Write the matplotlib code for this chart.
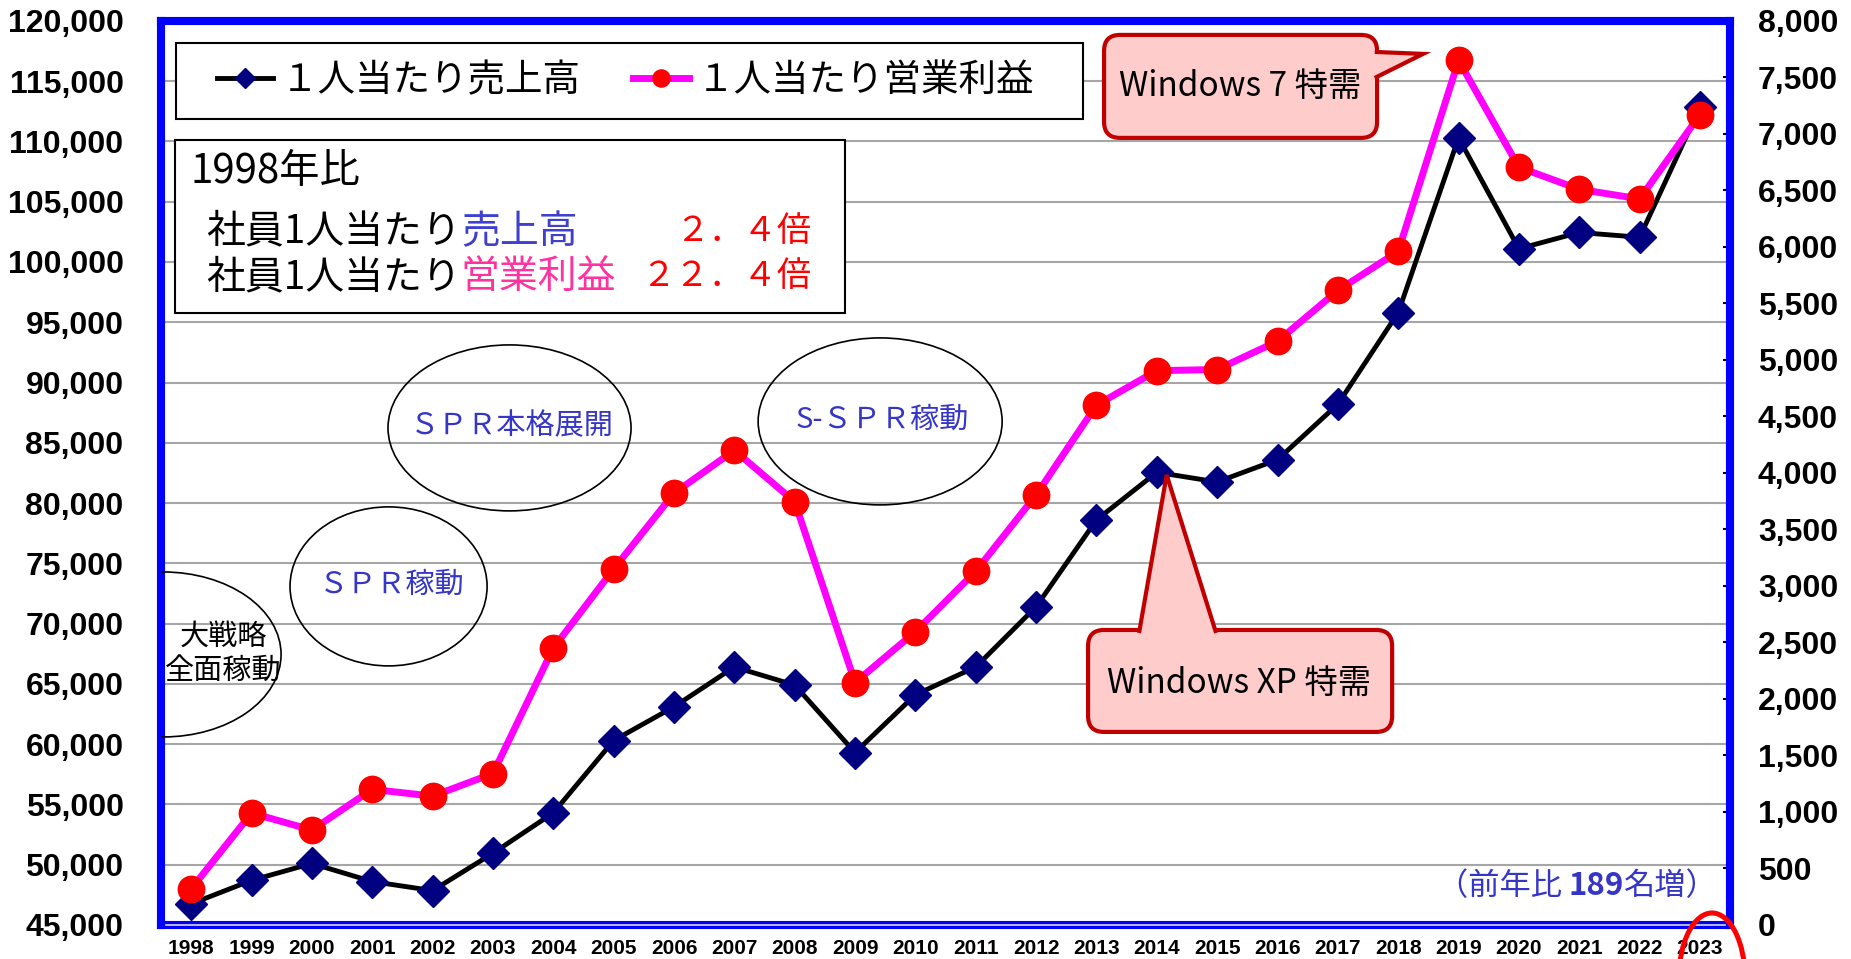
import numpy as np
import matplotlib.pyplot as plt
from matplotlib.patches import Ellipse, FancyBboxPatch, Polygon, Rectangle

JP = ['Noto Sans CJK JP', 'DejaVu Sans']
NUM = ['Liberation Sans', 'DejaVu Sans']

# data
years = [str(y) for y in range(1998, 2024)]
sales = [46750, 48700, 50100, 48600, 47850, 50950, 54300, 60300, 63100, 66400,
         64900, 59300, 64100, 66400, 71400, 78600, 82550, 81750, 83600, 88200,
         95800, 110300, 101100, 102450, 102050, 112850]
profit = [320, 990, 840, 1200, 1140, 1340, 2450, 3150, 3820, 4200,
          3745, 2145, 2595, 3130, 3805, 4600, 4905, 4915, 5165, 5615,
          5960, 7650, 6705, 6510, 6425, 7170]
left_ticks = list(range(45000, 120001, 5000))
right_ticks = list(range(0, 8001, 500))
legend_labels = ['１人当たり売上高', '１人当たり営業利益']

BLUE_TXT = '#3535C8'

fig = plt.figure(figsize=(18.51, 9.59), dpi=100)
ax = fig.add_axes([0.087, 0.0355, 0.8477, 0.9427])
x = np.arange(len(years))

l1, = ax.plot(x, sales, color='black', lw=3.5, marker='D', ms=16,
              mfc='#000080', mec='#000080', zorder=3)
ax.set_xlim(-0.5, len(years) - 0.5)
ax.set_ylim(left_ticks[0], left_ticks[-1])
ax.set_yticks(left_ticks)
ax.set_yticklabels([f'{v:,}' for v in left_ticks], fontsize=23,
                   fontweight='bold', family=NUM)
ax.set_xticks(x)
ax.set_xticklabels(years, fontsize=15, fontweight='bold', family=NUM)
ax.tick_params(axis='y', length=0, pad=27)
ax.tick_params(axis='x', length=0, pad=10)
ax.grid(axis='y', color='#A6A6A6', lw=1.5)
ax.set_axisbelow(True)

ax2 = ax.twinx()
l2, = ax2.plot(x, profit, color='#FF00FF', lw=5, marker='o', ms=19,
               mfc='#FF0000', mec='#FF0000', zorder=3)
ax2.set_ylim(right_ticks[0], right_ticks[-1])
ax2.set_yticks(right_ticks)
ax2.set_yticklabels([f'{v:,}' for v in right_ticks], fontsize=23,
                    fontweight='bold', family=NUM)
ax2.tick_params(axis='y', direction='in', length=5, width=1.5,
                color='black', pad=20)

for a in (ax, ax2):
    for s in a.spines.values():
        s.set_color('#0000FF')
        s.set_linewidth(5.8)
# light line running inside the bottom frame
ax2.axhline(0, xmin=0.003, xmax=0.997, color='#C8C8C8', lw=1.3,
            zorder=10, clip_on=False)

T = ax2.transAxes

# legend with its own frame
ax2.add_patch(Rectangle((0.0096, 0.8916), 0.578, 0.0841, transform=T,
                        fc='white', ec='black', lw=1.5, zorder=4.9))
ax2.legend([l1, l2], legend_labels, loc='center', bbox_to_anchor=(0.2960, 0.9336),
           bbox_transform=T, ncol=2, frameon=False, prop={'family': JP, 'size': 27},
           handlelength=1.5, handletextpad=0.2, columnspacing=1.4,
           markerscale=0.65, borderpad=0.2)

# 1998 comparison box
ax2.add_patch(Rectangle((0.0089, 0.677), 0.4271, 0.1914, transform=T,
                        fc='white', ec='black', lw=1.5, zorder=4.9))
ax2.text(0.0190, 0.833, '1998年比', transform=T, ha='left', va='center',
         fontsize=29, family=JP, zorder=6)
rows = [(0.7666, '売上高', '#4040D0', '２．４倍'),
        (0.7168, '営業利益', '#FF33A0', '２２．４倍')]
for yy, word, col, ratio in rows:
    t = ax2.text(0.0287, yy, '社員1人当たり', transform=T, ha='left', va='center',
                 fontsize=28, family=JP, zorder=6)
    ax2.annotate(word, xy=(1, 0), xycoords=t, ha='left', va='bottom',
                 fontsize=28, family=JP, color=col, zorder=6)
    ax2.text(0.4143, yy, ratio, transform=T, ha='right', va='center',
             fontsize=24.5, family=JP, color='#FF0000', zorder=6)

# ellipses with milestones
ellipses = [((0.0013, 0.2992), 0.1504, 0.1825),
            ((0.1450, 0.3745), 0.1256, 0.1759),
            ((0.2221, 0.5498), 0.1549, 0.1836),
            ((0.4583, 0.5570), 0.1555, 0.1847)]
for c, w, h in ellipses:
    ax2.add_patch(Ellipse(c, w, h, transform=T, fill=False, ec='black',
                          lw=1.2, zorder=4))
ax2.text(0.0395, 0.3186, '大戦略', transform=T, ha='center', va='center',
         fontsize=21, family=JP, zorder=6)
ax2.text(0.0395, 0.2799, '全面稼動', transform=T, ha='center', va='center',
         fontsize=21, family=JP, zorder=6)
ax2.text(0.1469, 0.3767, 'ＳＰＲ稼動', transform=T, ha='center', va='center',
         fontsize=21, family=JP, color=BLUE_TXT, zorder=6)
ax2.text(0.2237, 0.5520, 'ＳＰＲ本格展開', transform=T, ha='center', va='center',
         fontsize=21, family=JP, color=BLUE_TXT, zorder=6)
ax2.text(0.4596, 0.5592, 'S-ＳＰＲ稼動', transform=T, ha='center', va='center',
         fontsize=21, family=JP, color=BLUE_TXT, zorder=6)


def callout(box, tail, txy, label, size):
    x0, y0, x1, y1 = box
    ax2.add_patch(FancyBboxPatch((x0, y0), x1 - x0, y1 - y0,
                                 boxstyle='round,pad=0,rounding_size=0.0102',
                                 mutation_aspect=1.736, transform=T,
                                 fc='#FFCCCC', ec='#C00000', lw=3, zorder=7))
    ax2.add_patch(Polygon(tail, closed=False, transform=T, fc='#FFCCCC',
                          ec='#C00000', lw=3, joinstyle='miter', zorder=8))
    ax2.text(txy[0], txy[1], label, transform=T, ha='center', va='center',
             fontsize=size, family=JP, zorder=9)


callout((0.6010, 0.8706, 0.7750, 0.9845),
        [(0.7735, 0.9657), (0.8043, 0.9635), (0.7735, 0.9369)],
        (0.6877, 0.9270), 'Windows 7 特需', 24)
callout((0.5908, 0.2135, 0.7846, 0.3263),
        [(0.6233, 0.3230), (0.6409, 0.4978), (0.6724, 0.3230)],
        (0.6871, 0.2677), 'Windows XP 特需', 24)

# note at the bottom right
n1 = ax2.text(0.8130, 0.0431, '（前年比 ', transform=T, ha='left', va='center',
              fontsize=22.5, family=JP, color=BLUE_TXT, zorder=6)
n2 = ax2.annotate('189', xy=(1, 0), xycoords=n1, ha='left', va='bottom',
                  fontsize=22.5, family=JP, fontweight='bold', color=BLUE_TXT, zorder=6)
ax2.annotate('名増）', xy=(1, 0), xycoords=n2, ha='left', va='bottom',
             fontsize=22.5, family=JP, color=BLUE_TXT, zorder=6)

# red ring around the 2023 label
fig.add_artist(Ellipse((0.9249, -0.0198), 0.0357, 0.1356,
                       transform=fig.transFigure, fill=False, ec='#FF0000', lw=3.6))

fig.savefig('out.png', dpi=100)
